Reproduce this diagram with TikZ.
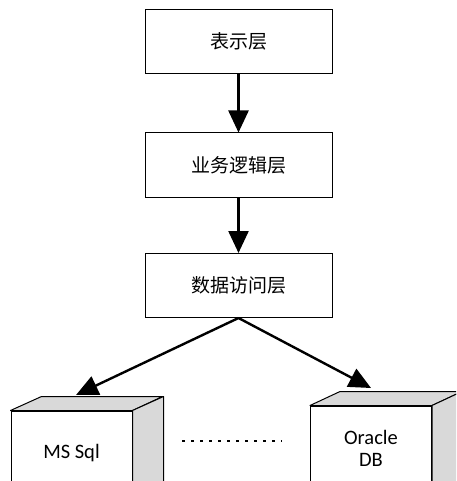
\documentclass[tikz,border=0pt]{standalone}
\usepackage{fontspec}
\setmainfont{Carlito}
\newfontfamily\cjk{Noto Sans CJK SC}
\usepackage{tikz}
\usetikzlibrary{arrows.meta}
\tikzstyle{layer} = [draw, line width=1pt, shape=rectangle, minimum width=187pt, minimum height=64pt, inner sep=0pt, font=\cjk\fontsize{19}{22}\selectfont]
\tikzstyle{db} = [draw, line width=1pt, fill=white, shape=rectangle, minimum width=121pt, minimum height=84pt, inner sep=0pt, align=center, font=\fontsize{20.5}{22}\selectfont]
\tikzstyle{face} = [draw, line width=1pt, fill=gray!30, line join=round]
\tikzstyle{dn} = [style={-{Triangle[length=22pt,width=20pt]},line width=2.4pt,draw}]

\begin{document}
\begin{tikzpicture}[x=1pt,y=-1pt]
    \clip (0,0) rectangle (456,481);
    \begin{scope}
      % the three layers
      \node[layer] (1) at (238.5,41.5) {表示层};
      \node[layer] (2) at (238.5,165) {业务逻辑层};
      \node[layer] (3) at (238.5,285.5) {数据访问层};
      \draw[dn] (1) -- (2);
      \draw[dn] (2) -- (3);
    \end{scope}
    \begin{scope}
      % databases as boxes
      \node[db] (ms) at (71.5,453) {MS Sql};
      \node[db] (ora) at (371,448) {Oracle\\DB};
      \draw[face] (ms.north west) -- ++(31,-14) -- ++(121,0) -- (ms.north east) -- cycle;
      \draw[face] (ms.north east) -- ++(31,-14) -- ++(0,100) -- (ms.south east) -- cycle;
      \draw[face] (ora.north west) -- ++(30,-14) -- ++(122,0) -- (ora.north east) -- cycle;
      \draw[face] (ora.north east) -- ++(30,-14) -- ++(0,100) -- (ora.south east) -- cycle;
      \coordinate (mstop) at (76,395);
      \coordinate (oratop) at (371,388);
      \draw[dn] (3.south) -- (mstop);
      \draw[dn] (3.south) -- (oratop);
      \coordinate (dl) at (182,441);
      \coordinate (dr) at (282,441);
      \draw[line width=2.6pt, dash pattern=on 2.6pt off 6.4pt] (dl) -- (dr);
    \end{scope}
\end{tikzpicture}
\end{document}
